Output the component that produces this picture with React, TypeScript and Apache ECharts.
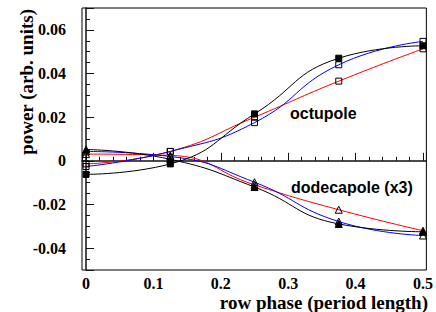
import React, { useEffect, useRef } from "react";
import * as echarts from "echarts";

const phases = [0, 0.125, 0.25, 0.375, 0.5];

const octBlack = [-0.0062, -0.0014, 0.0215, 0.047, 0.0527];
const octRed = [-0.0014, 0.0043, 0.02, 0.0365, 0.0513];
const octBlue = [-0.0026, 0.0043, 0.0175, 0.044, 0.0547];

const dodBlack = [0.0052, 0.0007, -0.012, -0.0289, -0.0325];
const dodRed = [0.0031, 0.0025, -0.011, -0.0224, -0.032];
const dodBlue = [0.0043, 0.002, -0.0098, -0.0278, -0.0342];

const xTitle = "row phase (period length)";
const yTitle = "power (arb. units)";
const octLabel = "octupole";
const dodLabel = "dodecapole (x3)";

const pairs = (ys: number[]) => phases.map((x, i) => [x, ys[i]]);

function mkSeries(name: string, ys: number[], color: string, symbol: string, filled: boolean) {
  return {
    name,
    type: "line",
    data: pairs(ys),
    smooth: 0.5,
    symbol,
    symbolSize: symbol === "triangle" ? 7 : 6,
    showSymbol: true,
    lineStyle: { color, width: 1 },
    itemStyle: {
      color: filled ? "#000" : "rgba(255,255,255,0)",
      borderColor: "#000",
      borderWidth: 1,
    },
    z: filled ? 3 : 2,
  };
}

export default function App() {
  const ref = useRef<HTMLDivElement>(null);
  useEffect(() => {
    if (!ref.current) return;
    const chart = echarts.init(ref.current, undefined, { renderer: "svg" });
    const serif = "Liberation Serif";
    const sans = "Liberation Sans";
    const fmtY = (v: number) => {
      const k = Math.round(v / 0.02);
      if (Math.abs(v - k * 0.02) > 1e-9) return "";
      if (k === 0) return "0";
      return (k * 0.02).toFixed(2);
    };
    const fmtX = (v: number) => {
      const k = Math.round(v / 0.1);
      if (Math.abs(v - k * 0.1) > 1e-9) return "";
      if (k === 0) return "0";
      return (k * 0.1).toFixed(1);
    };
    chart.setOption({
      animation: false,
      backgroundColor: "#fff",
      grid: {
        left: 82,
        right: 7,
        top: 8,
        bottom: 42,
        show: true,
        borderColor: "#000",
        borderWidth: 1,
        backgroundColor: "transparent",
      },
      xAxis: {
        type: "value",
        min: -0.006,
        max: 0.505,
        splitNumber: 5,
        axisLine: { show: true, lineStyle: { color: "#111", width: 1.5 } },
        axisTick: { show: true, inside: true, length: 8, lineStyle: { color: "#111" } },
        minorTick: { show: true, splitNumber: 5, length: 4, lineStyle: { color: "#111" } },
        splitLine: { show: false },
        axisLabel: {
          formatter: fmtX,
          fontFamily: serif,
          fontWeight: "bold",
          fontSize: 16,
          color: "#000",
          margin: 5,
        },
      },
      yAxis: {
        type: "value",
        min: -0.05,
        max: 0.07,
        splitNumber: 6,
        axisLine: { show: true, lineStyle: { color: "#111", width: 1.5 } },
        axisTick: { show: true, inside: true, length: 8, lineStyle: { color: "#111" } },
        minorTick: { show: true, splitNumber: 4, length: 4, lineStyle: { color: "#111" } },
        splitLine: { show: false },
        axisLabel: {
          formatter: fmtY,
          fontFamily: serif,
          fontWeight: "bold",
          fontSize: 16,
          color: "#000",
          margin: 16,
        },
      },
      graphic: [
        {
          type: "text",
          x: 428,
          y: 302,
          style: {
            text: xTitle,
            fontFamily: serif,
            fontWeight: "bold",
            fontSize: 19,
            fill: "#000",
            align: "right",
            verticalAlign: "middle",
          },
        },
        {
          type: "text",
          x: 26,
          y: 9,
          rotation: Math.PI / 2,
          style: {
            text: yTitle,
            fontFamily: serif,
            fontWeight: "bold",
            fontSize: 19,
            fill: "#000",
            align: "right",
            verticalAlign: "middle",
          },
        },
        {
          type: "text",
          x: 290,
          y: 113,
          z: 10,
          style: {
            text: octLabel,
            fontFamily: sans,
            fontWeight: "bold",
            fontSize: 16,
            fill: "#000",
            align: "left",
            verticalAlign: "middle",
          },
        },
        {
          type: "text",
          x: 291,
          y: 187,
          z: 10,
          style: {
            text: dodLabel,
            fontFamily: sans,
            fontWeight: "bold",
            fontSize: 16,
            fill: "#000",
            align: "left",
            verticalAlign: "middle",
          },
        },
      ],
      series: [
        mkSeries("octupole red", octRed, "#ff0000", "rect", false),
        mkSeries("octupole blue", octBlue, "#0000ff", "rect", false),
        mkSeries("octupole black", octBlack, "#000000", "rect", true),
        mkSeries("dodecapole red", dodRed, "#ff0000", "triangle", false),
        mkSeries("dodecapole blue", dodBlue, "#0000ff", "triangle", false),
        mkSeries("dodecapole black", dodBlack, "#000000", "triangle", true),
      ],
    });
    return () => chart.dispose();
  }, []);
  return (
    <div
      ref={ref}
      style={{ position: "absolute", left: 0, top: 0, width: 436, height: 312 }}
    />
  );
}
